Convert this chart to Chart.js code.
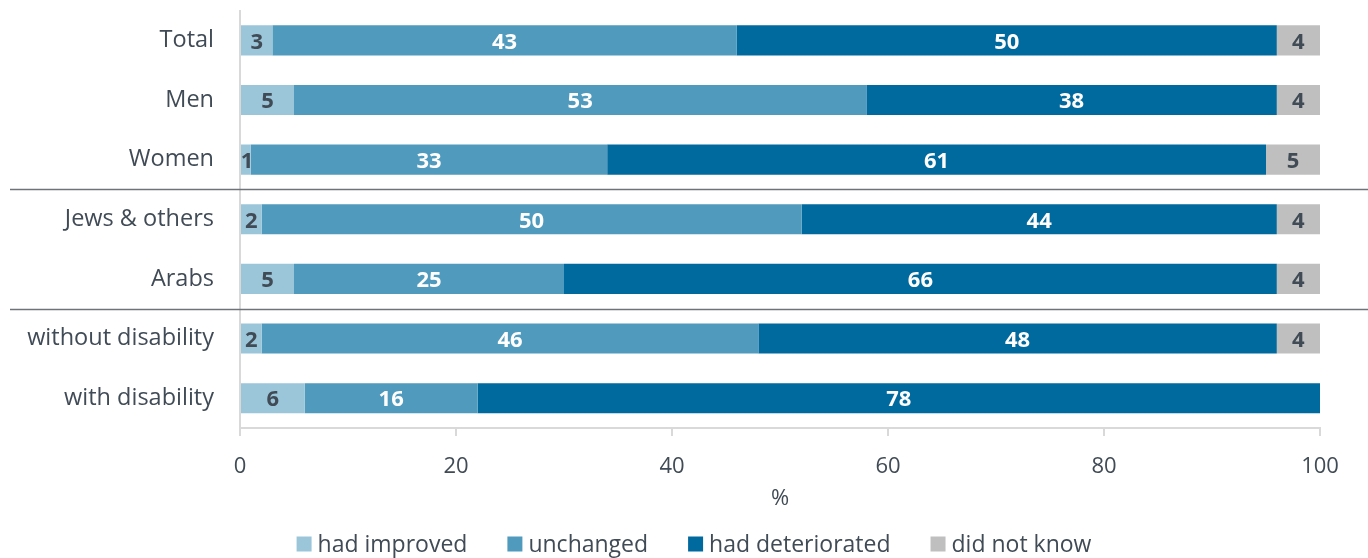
<!DOCTYPE html>
<html>
<head>
<meta charset="utf-8">
<script src="https://cdn.jsdelivr.net/npm/chart.js@4"></script>
<style>
  html, body { margin: 0; padding: 0; background: #fff; }
  #wrap { width: 1368px; height: 558px; }
</style>
</head>
<body>
<div id="wrap"><canvas id="myChart"></canvas></div>
<script>
let categories = ['Total', 'Men', 'Women', 'Jews & others', 'Arabs', 'without disability', 'with disability'];
let improved = [3, 5, 1, 2, 5, 2, 6];
let unchanged = [43, 53, 33, 50, 25, 46, 16];
let deteriorated = [50, 38, 61, 44, 66, 48, 78];
let dontKnow = [4, 4, 5, 4, 4, 4, 0];
let xTicks = [0, 20, 40, 60, 80, 100];

let textColor = '#404b56';

// numbers inside the bars
let barLabels = {
  id: 'barLabels',
  afterDatasetsDraw(chart) {
    let ctx = chart.ctx;
    ctx.save();
    ctx.font = 'bold 22px "Open Sans"';
    ctx.textAlign = 'center';
    ctx.textBaseline = 'middle';
    chart.data.datasets.forEach((ds, i) => {
      let meta = chart.getDatasetMeta(i);
      meta.data.forEach((bar, j) => {
        let v = ds.data[j];
        if (!v) return;
        let x = (bar.x + bar.base) / 2;
        if (v == 1) x = bar.base + 6;
        ctx.fillStyle = ds.labelColor;
        ctx.fillText(v, x, bar.y + 2);
      });
    });
    ctx.restore();
  }
};

// lines between the groups
let groupLines = {
  id: 'groupLines',
  afterDraw(chart) {
    let ctx = chart.ctx;
    let y = chart.scales.y;
    ctx.save();
    ctx.strokeStyle = '#6f7377';
    ctx.lineWidth = 1.5;
    [2, 4].forEach(i => {
      let py = Math.round((y.getPixelForValue(i) + y.getPixelForValue(i + 1)) / 2) + 0.5;
      ctx.beginPath();
      ctx.moveTo(10, py);
      ctx.lineTo(chart.width, py);
      ctx.stroke();
    });
    ctx.restore();
  }
};

// legend row at the bottom, from the datasets
let bottomLegend = {
  id: 'bottomLegend',
  afterDraw(chart) {
    let ctx = chart.ctx;
    ctx.save();
    ctx.font = '23px "Open Sans"';
    ctx.textBaseline = 'middle';
    let box = 15, gap = 6, space = 40;
    let items = chart.data.datasets.map(ds => ({ text: ds.label, color: ds.backgroundColor, w: ctx.measureText(ds.label).width }));
    let total = items.reduce((s, it) => s + box + gap + it.w, 0) + space * (items.length - 1);
    let x = chart.width / 2 + 10 - total / 2;
    let y = chart.height - 13;
    items.forEach(it => {
      ctx.fillStyle = it.color;
      ctx.fillRect(x, y - box / 2 - 1, box, box);
      ctx.fillStyle = textColor;
      ctx.fillText(it.text, x + box + gap, y);
      x += box + gap + it.w + space;
    });
    ctx.restore();
  }
};

let myChart = {
  type: 'bar',
  data: {
    labels: categories,
    datasets: [
      { label: 'had improved', data: improved, backgroundColor: '#9bc6da', labelColor: '#404b56' },
      { label: 'unchanged', data: unchanged, backgroundColor: '#4f9abd', labelColor: '#ffffff' },
      { label: 'had deteriorated', data: deteriorated, backgroundColor: '#00699d', labelColor: '#ffffff' },
      { label: 'did not know', data: dontKnow, backgroundColor: '#bfbfbf', labelColor: '#404b56' }
    ]
  },
  options: {
    indexAxis: 'y',
    responsive: true,
    maintainAspectRatio: false,
    animation: false,
    barPercentage: 0.505,
    categoryPercentage: 1,
    layout: { padding: { top: 10, right: 48, bottom: 42, left: 0 } },
    plugins: {
      tooltip: { enabled: false },
      legend: { display: false }
    },
    scales: {
      x: {
        stacked: true,
        min: 0,
        max: 100,
        afterBuildTicks(scale) { scale.ticks = xTicks.map(v => ({ value: v })); },
        afterFit(scale) { scale.height = 88; },
        grid: { drawOnChartArea: false, tickLength: 8, color: '#d9d9d9', lineWidth: 2 },
        border: { color: '#d9d9d9', width: 2 },
        ticks: { color: textColor, font: { family: '"Open Sans"', size: 22 }, padding: 18 },
        title: { display: true, text: '%', color: textColor, font: { family: '"Open Sans"', size: 22 }, padding: { top: 5, bottom: 4 } }
      },
      y: {
        stacked: true,
        afterFit(scale) { scale.width = 240; },
        grid: { display: true, drawOnChartArea: false, drawTicks: true, tickLength: 26, tickColor: 'rgba(0,0,0,0)' },
        border: { color: '#d9d9d9', width: 2 },
        ticks: { color: textColor, font: { family: '"Open Sans"', size: 23.5, lineHeight: 0.9 }, padding: 0 }
      }
    }
  },
  plugins: [barLabels, groupLines, bottomLegend]
};

new Chart(document.getElementById('myChart'), myChart);
</script>
</body>
</html>
